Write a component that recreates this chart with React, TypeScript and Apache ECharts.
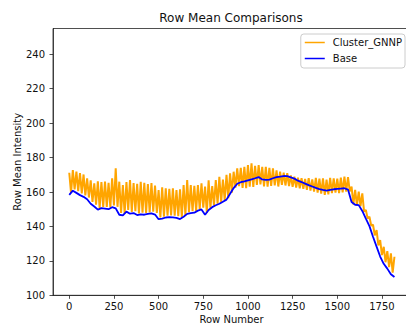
import React, { useEffect, useRef } from "react";
import * as echarts from "echarts";

const ROW_STEP = 20;

const baseValues = [
  158.3, 160.8, 159.5, 158.2, 157.2, 155.8, 153.2, 151.6, 149.8, 150.6,
  150.4, 150.0, 151.2, 150.5, 146.8, 146.4, 148.6, 147.4, 147.8, 146.6,
  147.0, 146.8, 147.3, 147.6, 146.9, 144.2, 144.6, 145.2, 145.4, 145.3,
  145.0, 144.3, 145.6, 147.3, 147.8, 148.0, 149.2, 149.9, 146.8, 149.6,
  151.2, 152.3, 153.2, 154.4, 155.6, 159.0, 162.3, 164.8, 165.7, 166.2,
  166.8, 167.4, 168.0, 168.7, 167.3, 167.0, 167.2, 168.0, 168.6, 168.9,
  169.3, 169.2, 168.5, 167.8, 166.6, 165.8, 164.9, 164.0, 163.2, 162.4,
  161.7, 161.2, 160.8, 161.2, 161.6, 161.8, 162.0, 162.2, 161.4, 154.2,
  152.6, 152.4, 149.0, 144.5, 140.2, 134.0, 128.3, 122.5, 118.3, 115.5,
  112.2, 110.6,
];

const gnnpTop = [
  171.2, 172.8, 171.8, 171.0, 170.2, 168.0, 166.8, 165.0, 166.2, 165.8,
  166.0, 165.4, 168.0, 173.8, 166.0, 164.1, 165.8, 167.0, 165.2, 164.8,
  166.0, 165.4, 164.6, 165.2, 163.8, 161.2, 162.8, 162.2, 161.8, 162.2,
  161.2, 161.6, 164.0, 167.0, 164.0, 163.6, 164.0, 165.0, 163.1, 166.8,
  163.5, 167.0, 168.9, 167.2, 170.0, 170.9, 171.8, 173.8, 174.0, 174.7,
  175.6, 176.7, 175.2, 175.7, 174.6, 174.7, 174.0, 173.8, 172.6, 171.8,
  171.2, 170.9, 169.6, 168.9, 168.4, 168.0, 167.6, 168.0, 167.4, 168.2,
  167.8, 168.0, 167.2, 168.2, 168.0, 167.8, 168.4, 168.9, 168.6, 163.1,
  161.2, 160.2, 159.2, 149.6, 145.7, 141.0, 137.9, 132.1, 128.2, 125.6,
  124.4, 122.4,
];

const gnnpBottom = [
  159.5, 161.5, 160.5, 159.2, 158.0, 156.8, 154.2, 152.6, 150.8, 151.4,
  151.4, 151.0, 152.2, 151.4, 147.8, 147.4, 149.6, 148.4, 148.8, 147.6,
  148.0, 147.8, 148.2, 148.6, 147.8, 145.2, 145.6, 146.2, 146.4, 146.3,
  146.0, 145.4, 146.6, 148.3, 148.8, 149.0, 150.2, 150.9, 147.8, 150.6,
  152.2, 153.2, 154.0, 155.2, 156.4, 159.6, 162.6, 163.4, 162.4, 162.2,
  163.1, 163.0, 164.1, 164.4, 163.2, 163.1, 163.6, 163.8, 163.2, 164.2,
  163.8, 163.5, 163.0, 162.6, 162.2, 161.8, 161.2, 160.8, 160.2, 159.6,
  159.0, 158.3, 158.6, 159.3, 159.6, 159.3, 159.8, 160.2, 160.4, 152.8,
  152.2, 151.8, 148.6, 144.6, 140.5, 134.8, 129.0, 123.4, 119.2, 116.4,
  113.2, 111.6,
];

const xTicks = [0, 250, 500, 750, 1000, 1250, 1500, 1750];
const yTicks = [100, 120, 140, 160, 180, 200, 220, 240];

const FONT = "DejaVu Sans";
const TEXT = "#111";
const AXIS = "#222";

export default function App() {
  const ref = useRef<HTMLDivElement>(null);

  useEffect(() => {
    if (!ref.current) return;
    const chart = echarts.init(ref.current, undefined, { renderer: "svg" });

    const baseData = baseValues.map((v, i) => [i * ROW_STEP, v]);
    const gnnpData: number[][] = [];
    gnnpTop.forEach((t, i) => {
      const x = i * ROW_STEP;
      gnnpData.push([x, t]);
      if (i < gnnpBottom.length - 1) gnnpData.push([x + ROW_STEP / 2, gnnpBottom[i]]);
    });

    chart.setOption({
      animation: false,
      backgroundColor: "#fff",
      title: {
        text: "Row Mean Comparisons",
        left: 231,
        top: 12,
        textAlign: "center",
        padding: 0,
        textStyle: { fontFamily: FONT, fontSize: 12, fontWeight: "normal", color: TEXT },
      },
      legend: {
        orient: "vertical",
        right: 9,
        top: 34,
        padding: [3, 3, 4, 4],
        itemGap: 5,
        itemWidth: 20,
        itemHeight: 1.5,
        icon: "rect",
        borderColor: "#ccc",
        borderWidth: 1,
        borderRadius: 3,
        backgroundColor: "rgba(255,255,255,0.8)",
        textStyle: { fontFamily: FONT, fontSize: 10, color: TEXT, lineHeight: 11, padding: [0, 0, 0, 3] },
        data: ["Cluster_GNNP", "Base"],
      },
      grid: {
        left: 53,
        top: 28.5,
        width: 357,
        height: 266.8,
        show: true,
        borderColor: AXIS,
        borderWidth: 0.8,
        containLabel: false,
        outerBoundsMode: "none",
      },
      xAxis: {
        type: "value",
        min: -91,
        max: 1907,
        name: "Row Number",
        nameLocation: "middle",
        nameGap: 19,
        nameMoveOverlap: false,
        nameTextStyle: { fontFamily: FONT, fontSize: 10, color: TEXT },
        axisLine: { show: true, onZero: false, lineStyle: { color: AXIS, width: 0.8 } },
        axisTick: { show: true, length: 3.5, customValues: xTicks, lineStyle: { color: AXIS, width: 0.8 } },
        axisLabel: {
          customValues: xTicks,
          margin: 6,
          fontFamily: FONT,
          fontSize: 10,
          color: TEXT,
          formatter: (v: number) => String(v),
        },
        splitLine: { show: false },
      },
      yAxis: {
        type: "value",
        min: 100,
        max: 255,
        name: "Row Mean Intensity",
        nameLocation: "middle",
        nameGap: 31,
        nameMoveOverlap: false,
        nameTextStyle: { fontFamily: FONT, fontSize: 10, color: TEXT },
        axisLine: { show: true, onZero: false, lineStyle: { color: AXIS, width: 0.8 } },
        axisTick: { show: true, length: 3.5, customValues: yTicks, lineStyle: { color: AXIS, width: 0.8 } },
        axisLabel: {
          customValues: yTicks,
          margin: 8,
          fontFamily: FONT,
          fontSize: 10,
          color: TEXT,
          formatter: (v: number) => String(v),
        },
        splitLine: { show: false },
      },
      series: [
        {
          name: "Cluster_GNNP",
          type: "line",
          data: gnnpData,
          symbol: "none",
          color: "#FFA500",
          lineStyle: { color: "#FFA500", width: 2 },
          z: 2,
        },
        {
          name: "Base",
          type: "line",
          data: baseData,
          symbol: "none",
          color: "#0000FF",
          lineStyle: { color: "#0000FF", width: 1.8 },
          z: 3,
        },
      ],
    });

    return () => chart.dispose();
  }, []);

  return (
    <div
      style={{
        position: "fixed",
        left: 0,
        top: 0,
        width: 406,
        height: 326,
        overflow: "hidden",
        background: "#fff",
      }}
    >
      <div ref={ref} style={{ width: 414, height: 326 }} />
    </div>
  );
}
